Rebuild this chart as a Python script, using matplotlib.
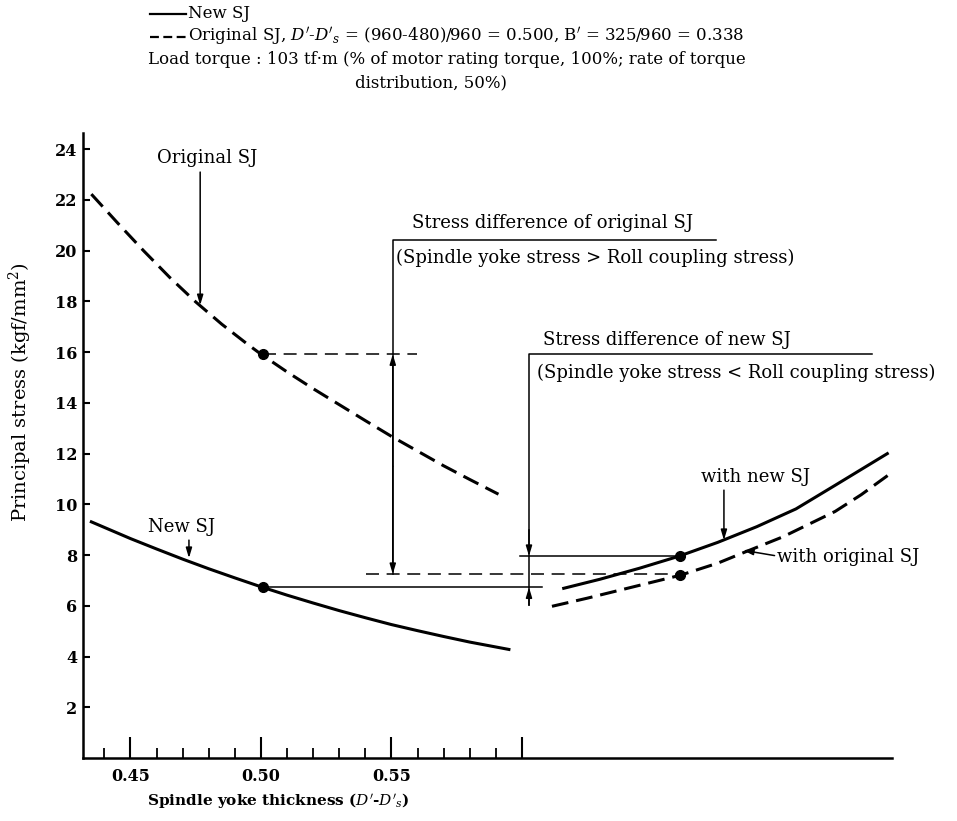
import matplotlib
matplotlib.use("Agg")
import matplotlib.pyplot as plt
from matplotlib.lines import Line2D

plt.rcParams['font.family'] = ['DejaVu Serif']
plt.rcParams['mathtext.fontset'] = 'dejavuserif'

# curves
orig_x = [0.435, 0.445, 0.455, 0.465, 0.475, 0.485, 0.495, 0.50, 0.51, 0.52, 0.53, 0.54, 0.55,
          0.56, 0.57, 0.58, 0.591]
orig_y = [22.23, 21.1, 20.0, 18.95, 17.98, 17.1, 16.3, 15.92, 15.22, 14.56, 13.93, 13.3, 12.68,
          12.1, 11.52, 10.98, 10.4]

new_x = [0.435, 0.45, 0.46, 0.47, 0.48, 0.49, 0.50, 0.51, 0.52, 0.53, 0.54, 0.55, 0.56, 0.57, 0.58, 0.595]
new_y = [9.31, 8.65, 8.24, 7.84, 7.46, 7.10, 6.75, 6.42, 6.11, 5.81, 5.53, 5.26, 5.02, 4.79, 4.57, 4.28]

rc_new_x = [0.616, 0.63, 0.645, 0.66, 0.675, 0.69, 0.705, 0.72, 0.74]
rc_new_y = [6.69, 7.05, 7.48, 7.95, 8.5, 9.12, 9.82, 10.75, 12.0]

rc_orig_x = [0.6115, 0.625, 0.64, 0.6605, 0.675, 0.685, 0.70, 0.72, 0.73, 0.741]
rc_orig_y = [5.98, 6.3, 6.68, 7.2, 7.68, 8.1, 8.72, 9.72, 10.38, 11.2]

# marked points
pt_x = [0.5007, 0.5007, 0.6605, 0.6605]
pt_y = [15.92, 6.73, 7.96, 7.2]

# stress-difference brackets
xb_orig, yb_orig_top, xb_orig_end = 0.5505, 20.42, 0.6743
xb_new, yb_new_top, xb_new_end = 0.6027, 15.93, 0.7341
lvl_orig_hi, lvl_orig_lo = 15.92, 7.25
lvl_new_hi, lvl_new_lo = 7.96, 6.73

xticks_major = [0.45, 0.50, 0.55, 0.60]
xtick_labels = ['0.45', '0.50', '0.55', '']
xticks_minor = [0.44, 0.46, 0.47, 0.48, 0.49, 0.51, 0.52, 0.53, 0.54, 0.56, 0.57, 0.58, 0.59]
yticks = [2, 4, 6, 8, 10, 12, 14, 16, 18, 20, 22, 24]

fig = plt.figure(figsize=(9.57, 8.21), dpi=100)
W, H = 957, 821
ax = fig.add_axes([83 / W, (H - 758) / H, (892 - 83) / W, (758 - 133) / H])
ax.set_xlim(0.4318, 0.7418)
ax.set_ylim(0, 24.64)

for s in ['top', 'right']:
    ax.spines[s].set_visible(False)
for s in ['left', 'bottom']:
    ax.spines[s].set_linewidth(1.8)

ax.set_xticks(xticks_major)
ax.set_xticklabels(xtick_labels, fontsize=11.5, fontweight='bold')
ax.set_xticks(xticks_minor, minor=True)
ax.tick_params(axis='x', which='major', direction='in', length=15, width=1.5, pad=7)
ax.tick_params(axis='x', which='minor', direction='in', length=7, width=1.3)
ax.set_yticks(yticks)
ax.set_yticklabels([str(v) for v in yticks], fontsize=11.5, fontweight='bold')
ax.tick_params(axis='y', which='major', direction='in', length=5, width=1.5, pad=4)

dash_thick = (5.5, 2.6)
dash_thin = (8.5, 5.0)

ax.plot(orig_x, orig_y, color='black', lw=2.2, dashes=dash_thick)
ax.plot(new_x, new_y, color='black', lw=2.2)
ax.plot(rc_new_x, rc_new_y, color='black', lw=2.2)
ax.plot(rc_orig_x, rc_orig_y, color='black', lw=2.2, dashes=dash_thick)
ax.plot(pt_x, pt_y, 'o', color='black', ms=7, ls='none')

# level lines
ax.plot([pt_x[0], 0.5598], [lvl_orig_hi, lvl_orig_hi], color='black', lw=1.1, dashes=dash_thin)
ax.plot([0.5402, pt_x[3]], [lvl_orig_lo, lvl_orig_lo], color='black', lw=1.1, dashes=dash_thin)
ax.plot([0.5992, pt_x[2]], [lvl_new_hi, lvl_new_hi], color='black', lw=1.1)
ax.plot([pt_x[1], 0.6077], [lvl_new_lo, lvl_new_lo], color='black', lw=1.1)

head = '-|>,head_length=0.6,head_width=0.18'
arr = dict(arrowstyle=head, color='black', lw=1.1, shrinkA=0, shrinkB=0)

# original SJ bracket
ax.plot([xb_orig, xb_orig, xb_orig_end], [lvl_orig_lo, yb_orig_top, yb_orig_top], color='black', lw=1.1)
ax.annotate('', xy=(xb_orig, lvl_orig_hi), xytext=(xb_orig, 11.5), arrowprops=arr)
ax.annotate('', xy=(xb_orig, lvl_orig_lo), xytext=(xb_orig, 11.5), arrowprops=arr)
ax.text(0.5578, 21.09, 'Stress difference of original SJ', fontsize=13, va='center', ha='left')
ax.text(0.5517, 19.71, '(Spindle yoke stress > Roll coupling stress)', fontsize=13, va='center', ha='left')

# new SJ bracket
ax.plot([xb_new, xb_new, xb_new_end], [6.02, yb_new_top, yb_new_top], color='black', lw=1.1)
ax.annotate('', xy=(xb_new, lvl_new_hi), xytext=(xb_new, 9.0), arrowprops=arr)
ax.annotate('', xy=(xb_new, lvl_new_lo), xytext=(xb_new, 6.02), arrowprops=arr)
ax.text(0.608, 16.48, 'Stress difference of new SJ', fontsize=13, va='center', ha='left')
ax.text(0.6057, 15.18, '(Spindle yoke stress < Roll coupling stress)', fontsize=13, va='center', ha='left')

# curve labels
ax.text(0.4793, 23.66, 'Original SJ', fontsize=13, ha='center', va='center')
ax.annotate('', xy=(0.4767, 17.85), xytext=(0.4767, 23.1), arrowprops=arr)
ax.text(0.4694, 9.1, 'New SJ', fontsize=13, ha='center', va='center')
ax.annotate('', xy=(0.4724, 7.88), xytext=(0.4724, 8.59), arrowprops=arr)
ax.text(0.6897, 11.07, 'with new SJ', fontsize=13, ha='center', va='center')
ax.annotate('', xy=(0.6774, 8.59), xytext=(0.6774, 10.56), arrowprops=arr)
ax.text(0.6977, 7.93, 'with original SJ', fontsize=13, ha='left', va='center')
ax.annotate('', xy=(0.6847, 8.19), xytext=(0.6968, 7.98), arrowprops=arr)

# axis labels
fig.text(20 / W, 1 - 392 / H, 'Principal stress (kgf/mm$^2$)', rotation=90, fontsize=14,
         ha='center', va='center')
fig.text(147 / W, 1 - 800 / H, "Spindle yoke thickness ($D'$-$D'_s$)", fontsize=11,
         fontweight='bold', ha='left', va='center')

# legend block
fig.add_artist(Line2D([150 / W, 186 / W], [1 - 14 / H, 1 - 14 / H], color='black', lw=1.6))
fig.add_artist(Line2D([150 / W, 186 / W], [1 - 37 / H, 1 - 37 / H], color='black', lw=1.6,
                      dashes=(4.0, 2.0)))
fig.text(188 / W, 1 - 14 / H, 'New SJ', fontsize=12, ha='left', va='center')
fig.text(188 / W, 1 - 37 / H,
         "Original SJ, $D'$-$D'_s$ = (960-480)/960 = 0.500, B$'$ = 325/960 = 0.338",
         fontsize=12, ha='left', va='center')
fig.text(148 / W, 1 - 60 / H,
         'Load torque : 103 tf\u00b7m (% of motor rating torque, 100%; rate of torque',
         fontsize=12, ha='left', va='center')
fig.text(355 / W, 1 - 83 / H, 'distribution, 50%)', fontsize=12, ha='left', va='center')

fig.savefig('out.png', dpi=100)
